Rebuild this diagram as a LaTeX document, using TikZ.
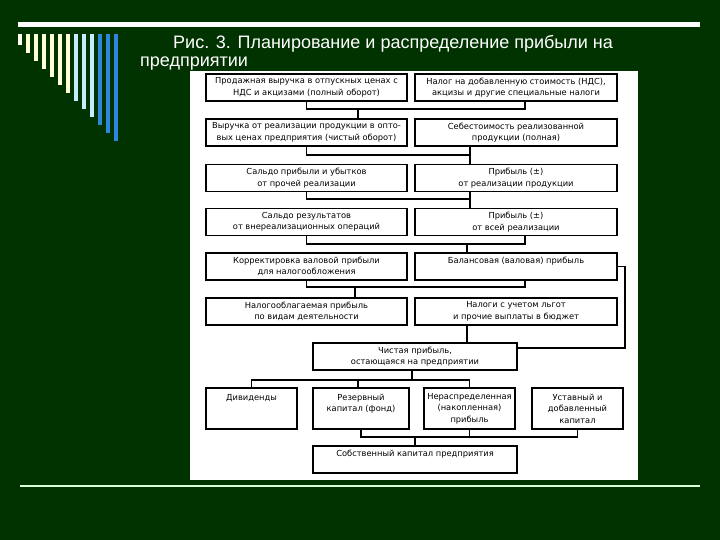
\documentclass[tikz,border=0pt]{standalone}
\usepackage{fontspec}
\setmainfont{Liberation Sans}
\newfontfamily\boxfont{DejaVu Sans}
\usetikzlibrary{positioning}

\definecolor{slidebg}{HTML}{013301}
\definecolor{cream}{HTML}{FFFFD6}
\definecolor{aqua}{HTML}{C4EEFF}
\definecolor{barblue}{HTML}{2F86DE}

\begin{document}
\begin{tikzpicture}[x=1pt, y=-1pt,
	blk/.style={draw, line width=1.2pt, align=center, inner sep=2pt, font=\boxfont\fontsize{8.3}{11.5}\selectfont},
	lw/.style={minimum width=201pt, minimum height=27pt},
	rw/.style={minimum width=202pt, minimum height=27pt},
	sw/.style={minimum width=91pt, minimum height=41pt},
	lnk/.style={line width=1.2pt}]
	\fill[slidebg] (0,0) rectangle (720,540);
	\useasboundingbox (0,0) rectangle (720,540);
	% slide decoration
	\fill[white] (18,22) rectangle (700,27);
	\foreach \i/\c in {0/white!60!cream,1/cream,2/cream,3/cream,4/cream,5/cream,6/cream,7/aqua,8/aqua,9/aqua,10/barblue,11/barblue,12/barblue}
		\fill[\c] ({18+8*\i},34) rectangle ({22+8*\i},{45+8*\i});
	\draw[line width=1.2pt, white!85!green] (20,486) -- (700,486);
	\fill[white] (190,71) rectangle (638,480);
	\node[anchor=base west, inner sep=0, text=white, font=\fontsize{18}{20}\selectfont] (ttl1) at (173,49) {Рис. 3. Планирование и распределение прибыли на};
	\node[anchor=base west, inner sep=0, text=white, font=\fontsize{18}{20}\selectfont] (ttl2) at (140,67) {предприятии};

	% boxes
	\node[blk,lw] (sales) at (306.5,87.5) {Продажная выручка в отпускных ценах с\\НДС и акцизами (полный оборот)};
	\node[blk,rw] (vat) at (516,87.5) {Налог на добавленную стоимость (НДС),\\акцизы и другие специальные налоги};
	\node[blk,lw] (netsales) at (306.5,132.5) {Выручка от реализации продукции в опто-\\вых ценах предприятия (чистый оборот)};
	\node[blk,rw] (cost) at (516,132.5) {Себестоимость реализованной\\продукции (полная)};
	\node[blk,lw] (other) at (306.5,178) {Сальдо прибыли и убытков\\от прочей реализации};
	\node[blk,rw] (prodprofit) at (516,178) {Прибыль (±)\\от реализации продукции};
	\node[blk,lw] (nonop) at (306.5,222) {Сальдо результатов\\от внереализационных операций};
	\node[blk,rw] (allprofit) at (516,222) {Прибыль (±)\\от всей реализации};
	\node[blk,lw] (adjust) at (306.5,266.5) {Корректировка валовой прибыли\\для налогообложения};
	\node[blk,rw] (gross) at (516,266.5) {Балансовая (валовая) прибыль\\~};
	\node[blk,lw] (taxable) at (306.5,311.5) {Налогооблагаемая прибыль\\по видам деятельности};
	\node[blk,rw] (taxes) at (516,311.5) {Налоги с учетом льгот\\и прочие выплаты в бюджет};
	\node[blk,minimum width=204pt,minimum height=27pt] (net) at (415,356.5) {Чистая прибыль,\\остающаяся на предприятии};
	\node[blk,sw] (div) at (251.5,408.5) {Дивиденды\\~\\~};
	\node[blk,sw,minimum width=96pt] (reserve) at (361,408.5) {Резервный\\капитал (фонд)\\~};
	\node[blk,sw] (retained) at (469.5,408.5) {Нераспределенная\\(накопленная)\\прибыль};
	\node[blk,sw] (charter) at (577.5,408.5) {Уставный и\\добавленный\\капитал};
	\node[blk,minimum width=204pt,minimum height=27pt] (equity) at (415,459.5) {Собственный капитал предприятия\\~};

	% connectors
	\coordinate (b1) at (358,109);
	\coordinate (b2) at (470,155);
	\coordinate (b3) at (470,199);
	\coordinate (b4) at (467,244);
	\coordinate (b5) at (355,287);
	\coordinate (b6) at (625,348);
	\coordinate (b7) at (412,380);
	\coordinate (b8) at (415,437);
	\draw[lnk] (sales.south) |- (b1) -| ([xshift=9pt]vat.south);
	\draw[lnk] (b1) -- (b1 |- netsales.north);
	\draw[lnk] (netsales.south) |- (b2);
	\draw[lnk] (b2 |- cost.south) -- (b2 |- prodprofit.north);
	\draw[lnk] (other.south) |- (b3);
	\draw[lnk] (b3 |- prodprofit.south) -- (b3 |- allprofit.north);
	\draw[lnk] (nonop.south) |- (b4) -| ([xshift=9pt]allprofit.south);
	\draw[lnk] (b4) -- (b4 |- gross.north);
	\draw[lnk] (adjust.south) |- (b5) -| ([xshift=9pt]gross.south);
	\draw[lnk] (b5) -- (b5 |- taxable.north);
	\draw[lnk] (gross.east) -| (b6) -- (b6 -| net.east);
	\draw[lnk] ([xshift=-49pt]taxes.south) -- ([xshift=-49pt]taxes.south |- net.north);
	\draw[lnk] (net.south -| b7) -- (b7);
	\draw[lnk] (div.north) |- (b7 -| retained.north) -- (retained.north);
	\draw[lnk] ([xshift=-3pt]reserve.north) -- ([xshift=-3pt]reserve.north |- b7);
	\draw[lnk] (reserve.south) |- (b8 -| charter.south) -- (charter.south);
	\draw[lnk] (retained.south) -- (retained.south |- b8);
	\draw[lnk] (b8) -- (b8 |- equity.north);
\end{tikzpicture}
\end{document}
